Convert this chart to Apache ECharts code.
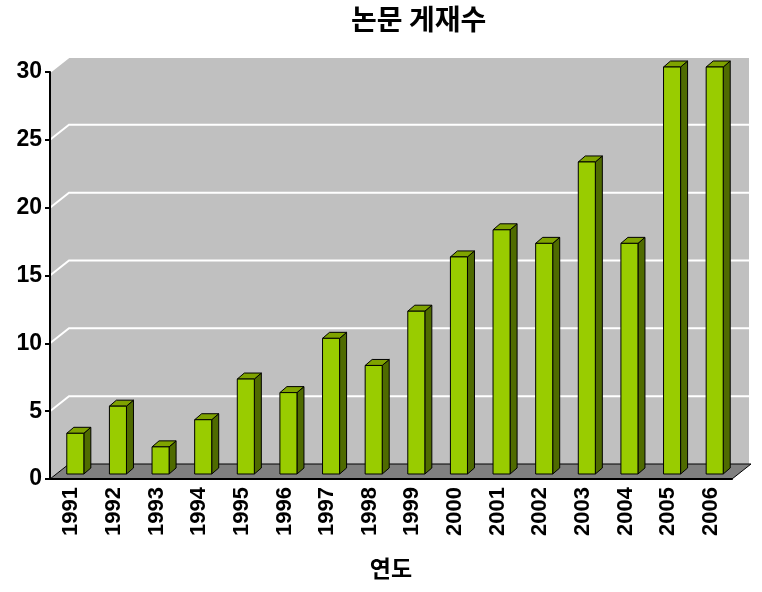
<!DOCTYPE html>
<html>
<head>
<meta charset="utf-8">
<script src="https://cdn.jsdelivr.net/npm/echarts@6/dist/echarts.min.js"></script>
<style>
  html, body { margin: 0; padding: 0; background: #fff; }
  #chart { width: 762px; height: 592px; }
</style>
</head>
<body>
<div id="chart"></div>
<script>
// veri
var years = ['1991', '1992', '1993', '1994', '1995', '1996', '1997', '1998',
             '1999', '2000', '2001', '2002', '2003', '2004', '2005', '2006'];
var papers = [3, 5, 2, 4, 7, 6, 10, 8, 12, 16, 18, 17, 23, 17, 30, 30];
var yTicks = [0, 5, 10, 15, 20, 25, 30];

// 3D gorunum icin derinlik
var WALL_DX = 19, WALL_DY = -15;
var BAR_OX = 4, BAR_OY = -5;
var BAR_DX = 7, BAR_DY = -6;

function renderWalls(params, api) {
    var cs = params.coordSys;
    var x0 = cs.x, x1 = cs.x + cs.width;
    var yb = cs.y + cs.height, yt = cs.y;
    var children = [];

    // sol duvar
    children.push({
        type: 'polygon',
        shape: { points: [[x0, yb], [x0, yt], [x0 + WALL_DX, yt + WALL_DY], [x0 + WALL_DX, yb + WALL_DY]] },
        style: { fill: '#c0c0c0' }
    });
    // arka duvar
    children.push({
        type: 'rect',
        shape: { x: x0 + WALL_DX, y: yt + WALL_DY, width: cs.width - 2, height: cs.height },
        style: { fill: '#c0c0c0' }
    });
    // zemin
    children.push({
        type: 'polygon',
        shape: { points: [[x0, yb], [x1, yb], [x1 + WALL_DX, yb + WALL_DY], [x0 + WALL_DX, yb + WALL_DY]] },
        style: { fill: '#808080', stroke: '#000', lineWidth: 1 }
    });
    // grid cizgileri
    yTicks.forEach(function (v) {
        if (v === 0) return;
        var p = api.coord([0, v]);
        var y = p[1];
        children.push({
            type: 'polyline',
            shape: { points: [[x0, y], [x0 + WALL_DX, y + WALL_DY], [x1 + WALL_DX - 2, y + WALL_DY]] },
            style: { stroke: '#ffffff', lineWidth: 2, fill: null }
        });
    });
    return { type: 'group', children: children };
}

function renderBar(params, api) {
    var idx = api.value(0);
    var val = api.value(1);
    var base = api.coord([idx, 0]);
    var top = api.coord([idx, val]);
    var w = api.size([1, 0])[0] * 0.4;
    var lx = base[0] - w / 2 + BAR_OX;
    var rx = base[0] + w / 2 + BAR_OX;
    var by = base[1] + BAR_OY;
    var ty = top[1] + BAR_OY;
    var edge = { stroke: '#000', lineWidth: 1 };
    return {
        type: 'group',
        children: [
            {
                type: 'polygon',
                shape: { points: [[rx, by], [rx, ty], [rx + BAR_DX, ty + BAR_DY], [rx + BAR_DX, by + BAR_DY]] },
                style: Object.assign({ fill: '#4f6b00' }, edge)
            },
            {
                type: 'polygon',
                shape: { points: [[lx, ty], [rx, ty], [rx + BAR_DX, ty + BAR_DY], [lx + BAR_DX, ty + BAR_DY]] },
                style: Object.assign({ fill: '#7fa300' }, edge)
            },
            {
                type: 'rect',
                shape: { x: lx, y: ty, width: rx - lx, height: by - ty },
                style: Object.assign({ fill: '#99cc00' }, edge)
            }
        ]
    };
}

var myChart = echarts.init(document.getElementById('chart'));

var option = {
    animation: false,
    title: {
        text: '논문 게재수',
        left: 346,
        top: 0,
        textStyle: { fontFamily: 'Noto Sans CJK KR', fontWeight: 'bold', fontSize: 28, color: '#000' }
    },
    grid: { left: 50, right: 30, top: 72, bottom: 113 },
    xAxis: {
        type: 'category',
        data: years,
        name: '연도',
        nameLocation: 'middle',
        nameGap: 78,
        nameTextStyle: { fontFamily: 'Noto Sans CJK KR', fontWeight: 'bold', fontSize: 23, color: '#000' },
        axisLine: { lineStyle: { color: '#000', width: 2 } },
        axisTick: { length: 6, lineStyle: { color: '#000', width: 2 } },
        axisLabel: {
            rotate: 90, interval: 0, margin: 8,
            fontFamily: 'Liberation Sans', fontWeight: 'bold', fontSize: 22, color: '#000'
        }
    },
    yAxis: {
        type: 'value',
        min: 0, max: 30, interval: 5,
        axisLine: { show: true, lineStyle: { color: '#000', width: 2 } },
        axisTick: { show: true, length: 5, lineStyle: { color: '#000', width: 2 } },
        splitLine: { show: false },
        axisLabel: { margin: 8, fontFamily: 'Liberation Sans', fontWeight: 'bold', fontSize: 23, color: '#000' }
    },
    series: [
        {
            type: 'custom',
            renderItem: renderWalls,
            data: [[0, 0]],
            z: 0,
            silent: true
        },
        {
            type: 'custom',
            renderItem: renderBar,
            encode: { x: 0, y: 1 },
            data: years.map(function (y, i) { return [i, papers[i]]; }),
            z: 2
        }
    ]
};

myChart.setOption(option);
</script>
</body>
</html>
